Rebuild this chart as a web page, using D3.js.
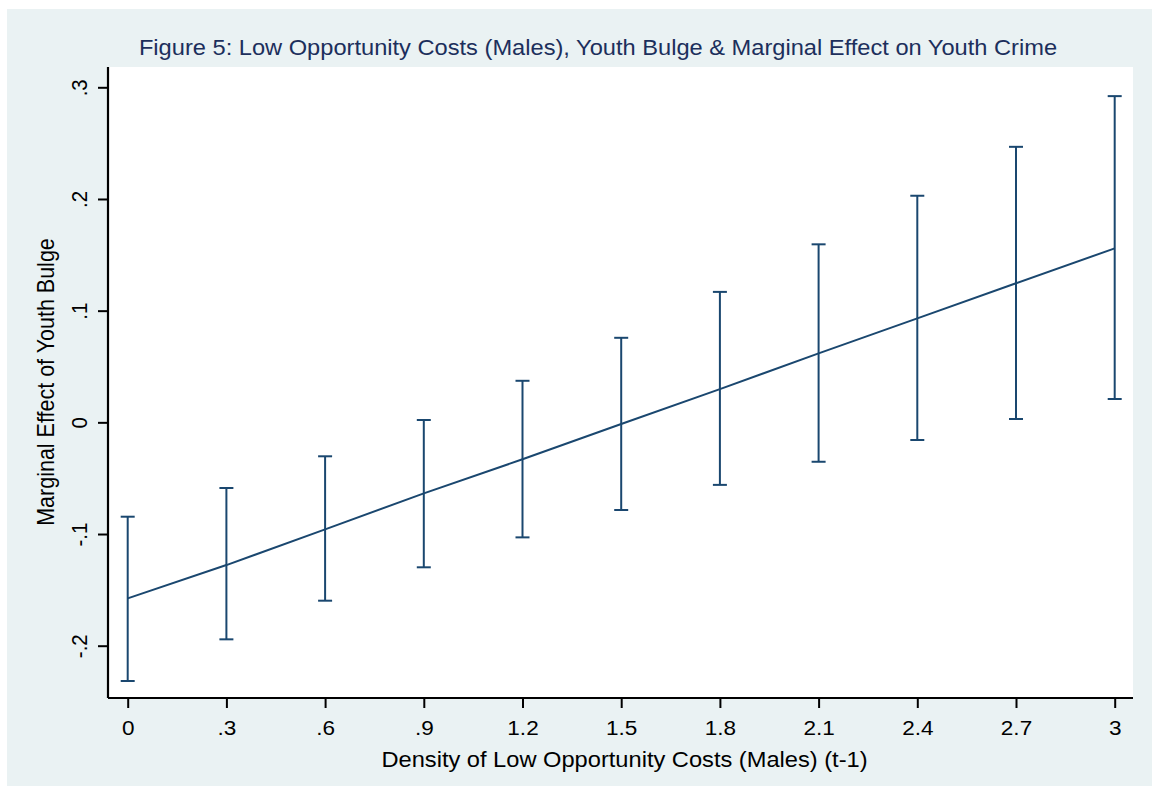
<!DOCTYPE html>
<html>
<head>
<meta charset="utf-8">
<script src="https://cdn.jsdelivr.net/npm/d3@7"></script>
<style>
  html, body { margin: 0; padding: 0; background: #ffffff; }
  svg { display: block; font-family: "Liberation Sans", Arial, sans-serif; }
</style>
</head>
<body>
<svg id="chart" width="1152" height="787"></svg>
<script>
// Marginal effect of youth bulge at each density level, with 95% CI bounds
const density = [0, 0.3, 0.6, 0.9, 1.2, 1.5, 1.8, 2.1, 2.4, 2.7, 3.0];
const effect  = [-0.1576, -0.1278, -0.0958, -0.0636, -0.0331, -0.0015, 0.0297, 0.0618, 0.0931, 0.1245, 0.1558];
const upper   = [-0.0845, -0.0588, -0.0304, 0.0021, 0.0372, 0.0757, 0.1168, 0.1594, 0.2029, 0.2467, 0.2921];
const lower   = [-0.2316, -0.1943, -0.1597, -0.1298, -0.1030, -0.0785, -0.0560, -0.0353, -0.0158, 0.0030, 0.0209];

const xTicks = [0, 0.3, 0.6, 0.9, 1.2, 1.5, 1.8, 2.1, 2.4, 2.7, 3.0];
const xTickLabels = ["0", ".3", ".6", ".9", "1.2", "1.5", "1.8", "2.1", "2.4", "2.7", "3"];
const yTicks = [-0.2, -0.1, 0, 0.1, 0.2, 0.3];
const yTickLabels = ["-.2", "-.1", "0", ".1", ".2", ".3"];

const titleText = "Figure 5: Low Opportunity Costs (Males), Youth Bulge & Marginal Effect on Youth Crime";
const xTitle = "Density of Low Opportunity Costs (Males) (t-1)";
const yTitle = "Marginal Effect of Youth Bulge";

const rows = density.map((d, i) => ({ x: d, y: effect[i], hi: upper[i], lo: lower[i] }));

const svg = d3.select("#chart");
const navy = "#1a476f";
const fontFamily = "Liberation Sans, Arial, sans-serif";
const wide = 1.1;          // horizontal glyph stretch used for all text
const labelSize = 20.5;
const titleSize = 21.5;

// Graph region background
svg.append("rect")
  .attr("x", 7).attr("y", 9).attr("width", 1145).attr("height", 777)
  .attr("fill", "#eaf2f3");

// Plot region
const plot = { left: 108, right: 1133, top: 67, bottom: 698 };
svg.append("rect")
  .attr("x", plot.left).attr("y", plot.top)
  .attr("width", plot.right - plot.left).attr("height", plot.bottom - plot.top)
  .attr("fill", "#ffffff");

const x = d3.scaleLinear().domain([0, 3]).range([127.7, 1114.7]);
const y = d3.scaleLinear().domain([-0.2, 0.3]).range([645.7, 87.3]);

// Confidence interval bars with caps
const capHalf = 7;
const bars = svg.append("g").attr("stroke", navy).attr("stroke-width", 2).attr("fill", "none");
rows.forEach(r => {
  bars.append("line")
    .attr("x1", x(r.x)).attr("x2", x(r.x))
    .attr("y1", y(r.hi)).attr("y2", y(r.lo));
  bars.append("line")
    .attr("x1", x(r.x) - capHalf).attr("x2", x(r.x) + capHalf)
    .attr("y1", y(r.hi)).attr("y2", y(r.hi));
  bars.append("line")
    .attr("x1", x(r.x) - capHalf).attr("x2", x(r.x) + capHalf)
    .attr("y1", y(r.lo)).attr("y2", y(r.lo));
});

// Point estimate line
svg.append("path")
  .datum(rows)
  .attr("fill", "none")
  .attr("stroke", navy)
  .attr("stroke-width", 2)
  .attr("d", d3.line().x(d => x(d.x)).y(d => y(d.y)));

// X axis
const xAxis = svg.append("g")
  .attr("transform", `translate(0,${plot.bottom})`)
  .call(d3.axisBottom(x)
    .tickValues(xTicks)
    .tickFormat((d, i) => xTickLabels[i])
    .tickSize(10)
    .tickSizeOuter(0));
xAxis.select(".domain").attr("d", `M${plot.left},0H${plot.right}`).attr("stroke", "#000").attr("stroke-width", 2.2);
xAxis.selectAll(".tick line").attr("stroke", "#000").attr("stroke-width", 2);
xAxis.selectAll(".tick text")
  .attr("y", null).attr("dy", null)
  .attr("transform", `translate(0,37) scale(${wide},1)`)
  .attr("font-size", labelSize).attr("fill", "#000")
  .attr("font-family", fontFamily);

// Y axis with rotated tick labels
const yAxis = svg.append("g")
  .attr("transform", `translate(${plot.left},0)`)
  .call(d3.axisLeft(y)
    .tickValues(yTicks)
    .tickFormat((d, i) => yTickLabels[i])
    .tickSize(10)
    .tickSizeOuter(0));
yAxis.select(".domain").attr("d", `M0,${plot.top}V${plot.bottom}`).attr("stroke", "#000").attr("stroke-width", 2.2);
yAxis.selectAll(".tick line").attr("stroke", "#000").attr("stroke-width", 2);
yAxis.selectAll(".tick text")
  .attr("x", null).attr("dy", null)
  .attr("transform", `translate(-21,0) scale(${wide},1) rotate(-90)`)
  .attr("text-anchor", "middle")
  .attr("font-size", labelSize).attr("fill", "#000")
  .attr("font-family", fontFamily);

// Title
svg.append("text")
  .attr("transform", `translate(598,55) scale(${wide},1)`)
  .attr("text-anchor", "middle")
  .attr("font-size", titleSize)
  .attr("fill", "#1c2f5c")
  .text(titleText);

// Axis titles
svg.append("text")
  .attr("transform", `translate(624.5,766.5) scale(${wide},1)`)
  .attr("text-anchor", "middle")
  .attr("font-size", titleSize)
  .attr("fill", "#000")
  .text(xTitle);

svg.append("text")
  .attr("transform", `translate(54,382) scale(${wide},1) rotate(-90)`)
  .attr("text-anchor", "middle")
  .attr("font-size", titleSize)
  .attr("fill", "#000")
  .text(yTitle);
</script>
</body>
</html>
